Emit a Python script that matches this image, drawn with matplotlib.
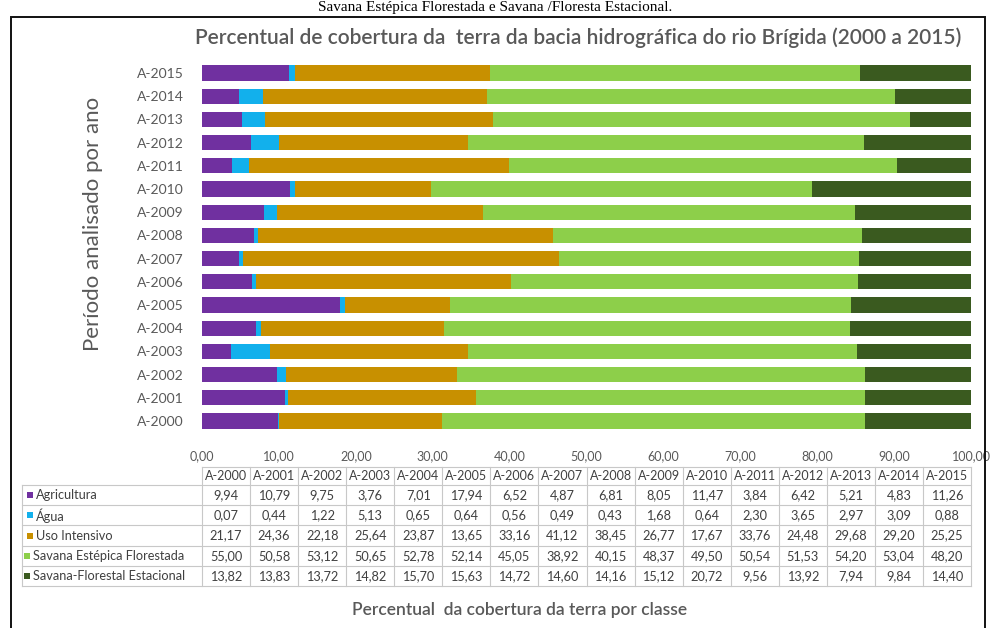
import matplotlib
matplotlib.use("Agg")
import matplotlib.pyplot as plt
from matplotlib.patches import Rectangle
from matplotlib.lines import Line2D

years = ["A-2000", "A-2001", "A-2002", "A-2003", "A-2004", "A-2005", "A-2006", "A-2007",
         "A-2008", "A-2009", "A-2010", "A-2011", "A-2012", "A-2013", "A-2014", "A-2015"]
classes = ["Agricultura", "Água", "Uso Intensivo", "Savana Estépica Florestada",
           "Savana-Florestal Estacional"]
agricultura = [9.94, 10.79, 9.75, 3.76, 7.01, 17.94, 6.52, 4.87, 6.81, 8.05, 11.47, 3.84, 6.42, 5.21, 4.83, 11.26]
agua = [0.07, 0.44, 1.22, 5.13, 0.65, 0.64, 0.56, 0.49, 0.43, 1.68, 0.64, 2.30, 3.65, 2.97, 3.09, 0.88]
uso_intensivo = [21.17, 24.36, 22.18, 25.64, 23.87, 13.65, 33.16, 41.12, 38.45, 26.77, 17.67, 33.76, 24.48, 29.68, 29.20, 25.25]
savana_estepica = [55.00, 50.58, 53.12, 50.65, 52.78, 52.14, 45.05, 38.92, 40.15, 48.37, 49.50, 50.54, 51.53, 54.20, 53.04, 48.20]
savana_florestal = [13.82, 13.83, 13.72, 14.82, 15.70, 15.63, 14.72, 14.60, 14.16, 15.12, 20.72, 9.56, 13.92, 7.94, 9.84, 14.40]
series = [agricultura, agua, uso_intensivo, savana_estepica, savana_florestal]
colors = ["#7030A0", "#12B0EC", "#C89000", "#8DCF4A", "#3A5A1F"]
xticks = [0, 10, 20, 30, 40, 50, 60, 70, 80, 90, 100]

W, H = 990, 628
FONT = "Lato"
GRAY = "#595959"

fig = plt.figure(figsize=(W / 100, H / 100), dpi=100)

def fx(x):
    return x / W

def fy(y):
    return 1 - y / H

# plot area in pixel coordinates
AX_L, AX_R = 202, 971
AX_T, AX_B = 61.4, 432.6
ax = fig.add_axes([fx(AX_L), fy(AX_B), fx(AX_R) - fx(AX_L), fy(AX_T) - fy(AX_B)])

left = [0.0] * len(years)
for vals, col, name in zip(series, colors, classes):
    ax.barh(range(len(years)), vals, left=left, height=0.66, color=col, label=name)
    left = [a + b for a, b in zip(left, vals)]

ax.set_xlim(0, 100)
ax.set_ylim(-0.5, len(years) - 0.5)
ax.set_yticks(range(len(years)))
ax.set_yticklabels(years, fontsize=10, color=GRAY, family=FONT)
ax.set_xticks(xticks)
ax.set_xticklabels([f"{v:.2f}".replace(".", ",") for v in xticks], fontsize=9,
                   color=GRAY, family=FONT)
ax.tick_params(axis="both", length=0)
ax.tick_params(axis="y", pad=13)
ax.tick_params(axis="x", pad=13)
for s in ax.spines.values():
    s.set_visible(False)

# outer chart frame
fig.add_artist(Rectangle((fx(11), fy(640)), fx(985) - fx(11), fy(17) - fy(640),
                         transform=fig.transFigure, fill=False, edgecolor="#111111",
                         linewidth=1.4))

# top caption
fig.text(0.5, fy(7), "Savana Estépica Florestada e Savana /Floresta Estacional.",
         ha="center", va="center", fontsize=11, family="Liberation Serif", color="black")

# title
fig.text(fx(578), fy(38), "Percentual de cobertura da  terra da bacia hidrográfica do rio Brígida (2000 a 2015)",
         ha="center", va="center", fontsize=15, family=FONT, color=GRAY, weight="semibold")

# y label
fig.text(fx(93), fy(224), "Período analisado por ano", ha="center", va="center",
         rotation=90, fontsize=16, family=FONT, color=GRAY)

# x label
fig.text(fx(520), fy(610), "Percentual  da cobertura da terra por classe", ha="center",
         va="center", fontsize=12.5, family=FONT, color=GRAY, weight="semibold")

# data table
ncol = len(years)
cw = (AX_R - AX_L) / ncol
head_t, head_b = 467, 485
row_h = 20.2
lab_l = 22
line_c = "#C8C8C8"

def hline(x0, x1, y):
    fig.add_artist(Line2D([fx(x0), fx(x1)], [fy(y), fy(y)], transform=fig.transFigure,
                          color=line_c, linewidth=0.8))

def vline(x, y0, y1):
    fig.add_artist(Line2D([fx(x), fx(x)], [fy(y0), fy(y1)], transform=fig.transFigure,
                          color=line_c, linewidth=0.8))

nrows = len(classes)
tab_b = head_b + nrows * row_h
hline(AX_L, AX_R, head_t)
for i in range(nrows + 1):
    hline(lab_l, AX_R, head_b + i * row_h)
for j in range(ncol + 1):
    vline(AX_L + j * cw, head_t, tab_b)
vline(lab_l, head_b, tab_b)

TFS = 9.2
for j, yr in enumerate(years):
    fig.text(fx(AX_L + (j + 0.5) * cw), fy((head_t + head_b) / 2), yr, ha="center",
             va="center", fontsize=9, family=FONT, color="#404040")

for i, (name, vals, col) in enumerate(zip(classes, series, colors)):
    yc = head_b + (i + 0.5) * row_h
    kx = 27 if i < 3 else 24
    fig.add_artist(Rectangle((fx(kx), fy(yc + 3)), fx(6), fy(0) - fy(6),
                             transform=fig.transFigure, facecolor=col, edgecolor="none"))
    fig.text(fx(kx + 9), fy(yc), name, ha="left", va="center", fontsize=TFS,
             family=FONT, color="#404040")
    for j, v in enumerate(vals):
        fig.text(fx(AX_L + (j + 0.5) * cw), fy(yc), f"{v:.2f}".replace(".", ","),
                 ha="center", va="center", fontsize=TFS, family=FONT, color="#404040")

fig.savefig("out.png", dpi=100)
